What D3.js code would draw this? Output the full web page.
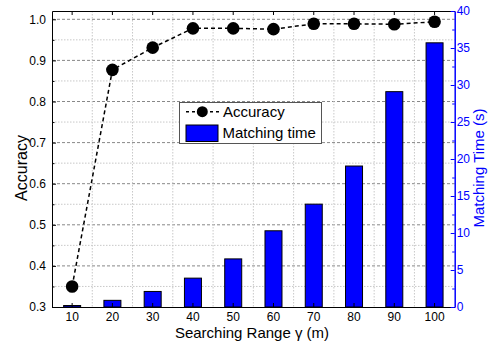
<!DOCTYPE html>
<html><head><meta charset="utf-8">
<script src="https://cdn.jsdelivr.net/npm/d3@7"></script>
<style>body{margin:0;background:#fff}svg{display:block;font-family:"Liberation Sans",Arial,sans-serif}</style>
</head><body><svg id="c" width="489" height="343"></svg>
<script>
const categories = ["10","20","30","40","50","60","70","80","90","100"];
const accuracy = [0.35, 0.877, 0.931, 0.978, 0.978, 0.976, 0.989, 0.989, 0.988, 0.994];
const matchingTime = [0.2, 0.9, 2.1, 3.9, 6.5, 10.3, 13.9, 19.05, 29.1, 35.7];
const leftTicks = [0.3,0.4,0.5,0.6,0.7,0.8,0.9,1.0];
const rightTicks = [0,5,10,15,20,25,30,35,40];

const svg = d3.select("#c");
const L=52, R=454.7, T=11, B=307;
const x = d3.scaleBand().domain(categories).range([L,R]).paddingInner(0).paddingOuter(0);
const yL = d3.scaleLinear().domain([0.3,1.0202]).range([B,T]);
const yR = d3.scaleLinear().domain([0,40]).range([B,T]);

// grid
const g = svg.append("g");
const minor = d3.range(0.35,1.01,0.1);
g.selectAll(".mn").data(minor).join("line").attr("x1",L).attr("x2",R)
 .attr("y1",d=>yL(d)).attr("y2",d=>yL(d)).attr("stroke","#c8c8c8").attr("stroke-dasharray","1.5,1.5").attr("stroke-width",1);
g.selectAll(".mj").data(leftTicks.slice(1)).join("line").attr("x1",L).attr("x2",R)
 .attr("y1",d=>yL(d)).attr("y2",d=>yL(d)).attr("stroke","#888").attr("stroke-dasharray","3,2").attr("stroke-width",1);
g.selectAll(".vg").data(categories.slice(1)).join("line").attr("x1",d=>x(d)).attr("x2",d=>x(d))
 .attr("y1",T).attr("y2",B).attr("stroke","#c8c8c8").attr("stroke-dasharray","1.5,1.5").attr("stroke-width",1);

// bars
const bw = 17;
svg.selectAll(".bar").data(matchingTime).join("rect")
 .attr("x",(d,i)=>x(categories[i])+x.bandwidth()/2-bw/2).attr("width",bw)
 .attr("y",d=>yR(d)).attr("height",d=>B-yR(d))
 .attr("fill","#0000ff").attr("stroke","#000").attr("stroke-width",1);

// line
const cx = i=>x(categories[i])+x.bandwidth()/2;
svg.append("path").datum(accuracy)
 .attr("d",d3.line().x((d,i)=>cx(i)).y(d=>yL(d)))
 .attr("fill","none").attr("stroke","#000").attr("stroke-width",1.5).attr("stroke-dasharray","4,3");
svg.selectAll(".pt").data(accuracy).join("circle")
 .attr("cx",(d,i)=>cx(i)).attr("cy",d=>yL(d)).attr("r",6.3).attr("fill","#000");

// axes
const fmt = d3.format(".1f");
const axL = svg.append("g").attr("transform",`translate(${L},0)`)
 .call(d3.axisLeft(yL).tickValues(leftTicks).tickFormat(fmt).tickSizeInner(-4).tickSizeOuter(0).tickPadding(6));
axL.selectAll("text").attr("font-size",12).attr("fill","#000").attr("font-family","Liberation Sans, Arial");
axL.select(".domain").attr("stroke","#000");
svg.append("g").attr("transform",`translate(${L},0)`)
 .call(d3.axisLeft(yL).tickValues(minor).tickFormat("").tickSizeInner(-2.5).tickSizeOuter(0))
 .select(".domain").remove();

const axB = svg.append("g").attr("transform",`translate(0,${B})`)
 .call(d3.axisBottom(x).tickSizeInner(-4).tickSizeOuter(0).tickPadding(5));
axB.selectAll("text").attr("font-size",12).attr("fill","#000").attr("font-family","Liberation Sans, Arial");
axB.select(".domain").attr("stroke","#000");
const axT = svg.append("g").attr("transform",`translate(0,${T})`)
 .call(d3.axisTop(x).tickSizeInner(-4).tickSizeOuter(0).tickFormat(""));
axT.select(".domain").attr("stroke","#000");

const axR = svg.append("g").attr("transform",`translate(${R},0)`)
 .call(d3.axisRight(yR).tickValues(rightTicks).tickSizeInner(-4).tickSizeOuter(0).tickPadding(2));
axR.selectAll("text").attr("font-size",12).attr("fill","#0000ff").attr("font-family","Liberation Sans, Arial");
axR.selectAll("line").attr("stroke","#0000ff");
axR.select(".domain").attr("stroke","#0000ff").attr("stroke-width",1.5);
const axR2 = svg.append("g").attr("transform",`translate(${R},0)`)
 .call(d3.axisRight(yR).tickValues(d3.range(2.5,40,5)).tickFormat("").tickSizeInner(-2.5).tickSizeOuter(0));
axR2.selectAll("line").attr("stroke","#0000ff");
axR2.select(".domain").remove();

// titles
svg.append("text").attr("x",252).attr("y",338).attr("text-anchor","middle").attr("font-size",15)
 .text("Searching Range γ (m)");
svg.append("text").attr("transform","translate(27,168) rotate(-90)").attr("text-anchor","middle").attr("font-size",16)
 .text("Accuracy");
svg.append("text").attr("transform","translate(484,168) rotate(-90)").attr("text-anchor","middle").attr("font-size",15)
 .attr("fill","#0000ff").text("Matching Time (s)");

// legend
const lg = svg.append("g");
lg.append("rect").attr("x",179.5).attr("y",102.5).attr("width",142).attr("height",41)
 .attr("fill","#fff").attr("stroke","#555").attr("stroke-width",1);
lg.append("line").attr("x1",186).attr("x2",219).attr("y1",111.7).attr("y2",111.7)
 .attr("stroke","#000").attr("stroke-width",1.5).attr("stroke-dasharray","3,3");
lg.append("circle").attr("cx",202.3).attr("cy",111.7).attr("r",5.5).attr("fill","#000");
lg.append("text").attr("x",223).attr("y",117).attr("font-size",15).text("Accuracy");
lg.append("rect").attr("x",186).attr("y",125).attr("width",32).attr("height",16.5)
 .attr("fill","#0000ff").attr("stroke","#000").attr("stroke-width",1);
lg.append("text").attr("x",222.5).attr("y",138).attr("font-size",15).text("Matching time");
</script></body></html>
